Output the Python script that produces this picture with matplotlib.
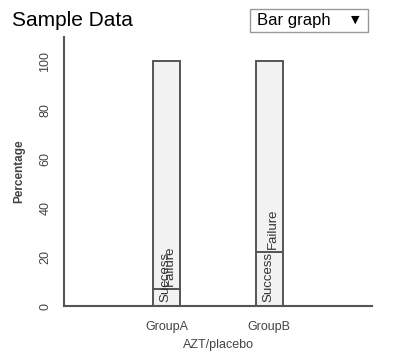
import matplotlib.pyplot as plt
from matplotlib.patches import Rectangle

# data
groups = ["GroupA", "GroupB"]
success = [7, 22]
failure = [93, 78]
yticks = [0, 20, 40, 60, 80, 100]

W, H = 399, 351
fig = plt.figure(figsize=(W / 100, H / 100), dpi=100)
plt.rcParams['font.family'] = ['Liberation Sans', 'DejaVu Sans']

ax = fig.add_axes([64 / W, (H - 306) / H, 308 / W, (306 - 37) / H])
x = list(range(len(groups)))
edge = '#555555'
ax.bar(x, success, width=0.26, color='#f2f2f2', edgecolor=edge, linewidth=1.4)
ax.bar(x, failure, width=0.26, bottom=success, color='#f2f2f2', edgecolor=edge, linewidth=1.4)

# segment labels, drawn at the bottom of each segment
for i in x:
    ax.text(i - 0.01, 1.5, "Success", rotation=90, ha='center', va='bottom',
            fontsize=9.5, color='#333333')
    ax.text(i + 0.03, success[i] + 1.2, "Failure", rotation=90, ha='center', va='bottom',
            fontsize=9.5, color='#333333')

ax.set_xlim(-1, 2)
ax.set_ylim(0, 110)
ax.set_xticks(x)
ax.set_xticklabels(groups, fontsize=9, color='#444444')
ax.set_yticks(yticks)
ax.set_yticklabels([str(v) for v in yticks], rotation=90, va='center',
                   fontsize=9, color='#444444')
ax.tick_params(length=0, pad=9)
ax.tick_params(axis='x', pad=11)
for s in ['top', 'right']:
    ax.spines[s].set_visible(False)
for s in ['left', 'bottom']:
    ax.spines[s].set_color(edge)
    ax.spines[s].set_linewidth(1.5)

ax.set_xlabel("AZT/placebo", fontsize=9, color='#444444', labelpad=4)
ax.set_ylabel("Percentage", fontsize=8.5, color='#444444', fontweight='bold', labelpad=10)

fig.text(12 / W, 1 - 20 / H, "Sample Data", fontsize=15, va='center', ha='left')
fig.text(257 / W, 1 - 20 / H, "Bar graph", fontsize=12, va='center', ha='left')
fig.text(355 / W, 1 - 20 / H, "\u25BC", fontsize=8, va='center', ha='center',
         family='DejaVu Sans')
fig.patches.append(Rectangle((250 / W, 1 - 32 / H), 118 / W, 23 / H, transform=fig.transFigure,
                             fill=False, edgecolor='#999999', linewidth=1))

fig.savefig("out.png", dpi=100)
